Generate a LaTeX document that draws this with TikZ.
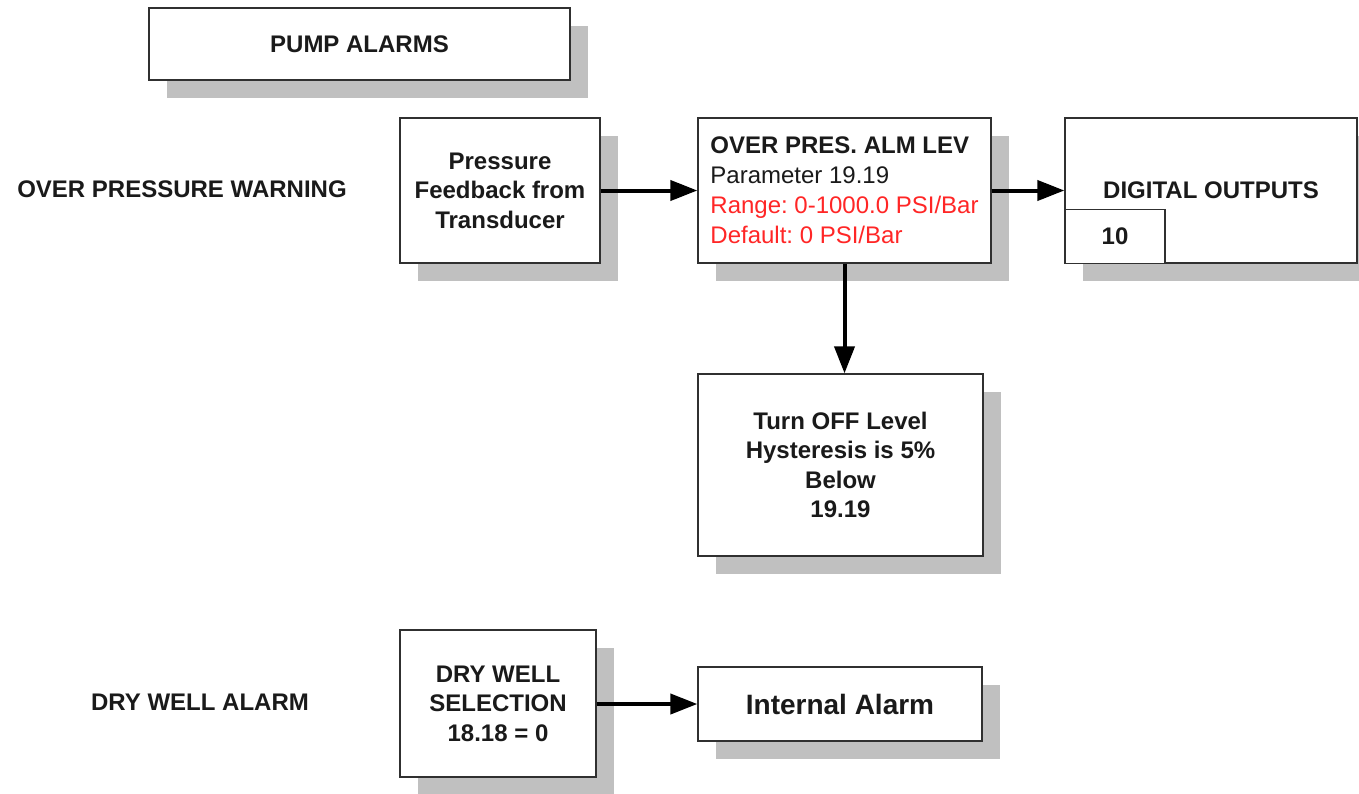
\documentclass[tikz,border=0pt]{standalone}
\usepackage{fontspec}
\setmainfont{Liberation Sans}
\frenchspacing
\usetikzlibrary{arrows.meta,shadows,calc}
\definecolor{shadowgray}{HTML}{C0C0C0}
\definecolor{boxline}{HTML}{303030}
\definecolor{alarmred}{HTML}{FF2626}
\definecolor{darktext}{HTML}{1A1A1A}
\begin{document}
\begin{tikzpicture}[x=1pt,y=-1pt,
  txt/.style={font=\fontsize{24}{29.5}\selectfont\bfseries, text=darktext, align=center, inner sep=0pt},
  box/.style={draw=boxline, line width=1.3pt, fill=white, inner sep=0pt, align=center,
    font=\fontsize{24}{29.5}\selectfont\bfseries, text=darktext,
    drop shadow={shadow xshift=18pt, shadow yshift=-18pt, fill=shadowgray, opacity=1, draw=none}},
  plainbox/.style={draw=boxline, line width=1.3pt, fill=white, inner sep=0pt, align=center,
    font=\fontsize{24}{29.5}\selectfont\bfseries, text=darktext},
  flow/.style={line width=4pt, -{Triangle[length=27pt,width=20pt]}}
]
\useasboundingbox (0,0) rectangle (1359,793);

\node[box, minimum width=421pt, minimum height=72pt] (pump) at (359.5,44) {PUMP ALARMS};

\node[txt] (opw) at (182,189) {OVER PRESSURE WARNING};
\node[txt] (dwa) at (200,702) {DRY WELL ALARM};

\node[box, minimum width=200pt, minimum height=145pt] (press) at (500,190.5) {Pressure\\Feedback from\\Transducer};

\node[box, minimum width=293pt, minimum height=145pt, align=left, font=\fontsize{24}{30}\selectfont] (over) at (844.5,190.5)
  {{\bfseries OVER PRES. ALM LEV}\\Parameter 19.19\\\textcolor{alarmred}{Range: 0-1000.0 PSI/Bar}\\\textcolor{alarmred}{Default: 0 PSI/Bar}};

\node[box, minimum width=292pt, minimum height=145pt] (digital) at (1211,190.5) {DIGITAL OUTPUTS};
\node[plainbox, minimum width=100pt, minimum height=54pt] (ten) at (1115,236.5) {10};

\node[box, minimum width=285pt, minimum height=182pt] (turnoff) at (840.5,465) {Turn OFF Level\\Hysteresis is 5\%\\Below\\19.19};

\node[box, minimum width=196pt, minimum height=147pt] (dry) at (498,703.5) {DRY WELL\\SELECTION\\18.18 = 0};

\node[box, minimum width=284pt, minimum height=74pt, font=\fontsize{28}{32}\selectfont\bfseries] (internal) at (840,704) {Internal Alarm};

\draw[flow] (press.east) -- (over.west);
\draw[flow] (over.east) -- (digital.west);
\draw[flow] (over.south) -- (over.south |- turnoff.north);
\draw[flow] (dry.east |- internal.west) -- (internal.west);
\end{tikzpicture}
\end{document}
